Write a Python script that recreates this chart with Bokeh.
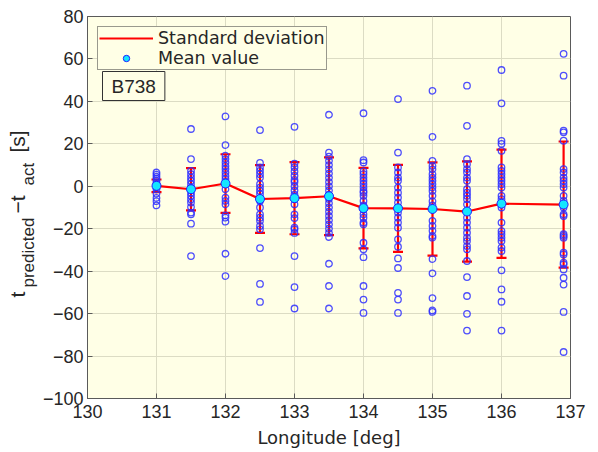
import math
from bokeh.plotting import figure
from bokeh.layouts import row
from bokeh.models import (ColumnDataSource, Whisker, TeeHead, Label, Legend,
                          LegendItem, Range1d, FixedTicker)
from bokeh.embed import file_html
from bokeh.resources import INLINE

# ---------------- data ----------------
lon = [131, 131.5, 132, 132.5, 133, 133.5, 134, 134.5, 135, 135.5, 136, 136.9]
mean_val = [0.2, -1.4, 1.3, -6.0, -5.6, -4.7, -10.3, -10.4, -10.7, -11.9, -8.2, -8.6]
std_val = [3.0, 10.0, 13.8, 16.0, 17.0, 18.3, 19.0, 20.5, 22.0, 23.6, 25.5, 29.7]

pts_131 = [6.5, 5.5, 4.5, 3.5, 2.5, 1.5, 0.5, -0.5, -1.5, -3.5, -5.5, -7, -9]
pts_131_5 = [27, 12.8, 7.3, 5.7, 4.1, 2.6, 1, -0.6, -3, -4.5, -6.1, -7.7, -9.8,
             -12.4, -13.2, -17.6, -32.9]
pts_132 = [32.9, 19.4, 14.4, 12.8, 11.2, 9.6, 8.1, 6.5, 4.9, 3.4, 1.8, -1.4, -5.3,
           -6.9, -8.5, -13.7, -14.8, -16.7, -31.8, -42.3]
pts_132_5 = [26.5, 11, 8.9, 7.3, 5.7, 4.1, 1, -0.6, -2.2, -3.7, -6.9, -10, -13.2,
             -14.8, -16.3, -18.7, -20.3, -29.1, -46, -54.5]
pts_133 = [28, 10.7, 9, 7, 5, 3, 2, 0, -2, -4, -6, -8.5, -13.2, -15, -19.5, -20.3,
           -22, -32.9, -47.5, -57.6]
pts_133_5 = [33.7, 15.9, 14, 12, 10, 8, 6, 4, 2, 0, -2, -4, -6, -8, -10, -12, -14,
             -16, -18, -20, -22, -23.9, -36.5, -47, -57.6]
pts_134 = [34.4, 12.3, 11.2, 7, 5.7, 4.1, 2.6, 1, -0.6, -2.2, -3, -4.5, -6.9, -9,
           -11, -13.2, -14.8, -17.1, -17.9, -26.6, -29.7, -33.4, -47, -53.4, -59.7]
pts_134_5 = [41.1, 15.9, 8.9, 6.5, 4.1, 2.6, -0.6, -3, -5.3, -7.7, -10, -12.4,
             -14.8, -17.1, -19.5, -25, -28.5, -34, -38.5, -50.2, -53.4, -59.7]
pts_135 = [45, 23.3, 12, 9.6, 8, 5.7, 4.1, 2.6, 1, -0.6, -2.2, -4.5, -7, -9, -16.3,
           -18.7, -21, -23.4, -24.2, -34.3, -41, -52.7, -58.5, -59.2]
pts_135_5 = [47.4, 28.5, 12.8, 10.4, 8.1, 6.5, 4.1, 2.6, -1.4, -3, -4.5, -6.1, -8.5,
             -11.6, -14.8, -17.1, -19.5, -21.9, -24.2, -25.8, -28.2, -29.7, -35.2,
             -42.8, -51.7, -60.1, -68]
pts_136 = [54.8, 39.1, 21.4, 20, 16.7, 8.9, 7.3, 5.7, 4.1, 2.6, 1, -0.6, -4.5, -6.1,
           -8.5, -10, -17.1, -21.1, -22.6, -24.2, -25.8, -28.9, -30.5, -39.6, -48.6,
           -54.4, -68]
pts_136_9 = [62.4, 52.1, 26.2, 25.4, 21.5, 8.1, 6.5, 4.1, 2.6, 1, -0.6, -4.5, -6.9,
             -10, -13.2, -14, -22.6, -23.4, -24.2, -31.3, -32.1, -36, -36.8, -39.2,
             -43.1, -46.3, -59.2, -78.1]

columns = [pts_131, pts_131_5, pts_132, pts_132_5, pts_133, pts_133_5, pts_134,
           pts_134_5, pts_135, pts_135_5, pts_136, pts_136_9]

x_ticks = [130, 131, 132, 133, 134, 135, 136, 137]
y_ticks = [-100, -80, -60, -40, -20, 0, 20, 40, 60, 80]

# ---------------- build sources ----------------
px, py = [], []
for xv, col in zip(lon, columns):
    for yv in col:
        px.append(xv)
        py.append(yv)
pts_src = ColumnDataSource(dict(x=px, y=py))

stat_src = ColumnDataSource(dict(
    lon=lon, mean=mean_val,
    upper=[m + s for m, s in zip(mean_val, std_val)],
    lower=[m - s for m, s in zip(mean_val, std_val)],
))

BG = "#ffffe6"
TICK_FONT = "Liberation Sans"
LBL_FONT = "DejaVu Sans"
LW = 38          # width of the y-label strip
H = 452
FRAME_BOTTOM = 398   # page y of the plot frame's bottom edge

p = figure(width=598 - LW, height=H, x_range=Range1d(130, 137),
           y_range=Range1d(-100, 80),
           output_backend="svg", toolbar_location=None, title=None,
           min_border_left=87 - LW, min_border_right=28, min_border_top=16,
           min_border_bottom=H - FRAME_BOTTOM)
p.background_fill_color = BG
p.border_fill_color = "white"
p.outline_line_color = "#5a5a5a"
p.outline_line_width = 1

p.xaxis.ticker = FixedTicker(ticks=x_ticks)
p.yaxis.ticker = FixedTicker(ticks=y_ticks)
for ax in (p.xaxis, p.yaxis):
    ax.major_tick_in = 5
    ax.major_tick_out = 0
    ax.minor_tick_line_color = None
    ax.axis_line_color = "#5a5a5a"
    ax.major_tick_line_color = "#5a5a5a"
    ax.major_label_text_font = TICK_FONT
    ax.major_label_text_font_size = "18px"
    ax.major_label_text_color = "#262626"
p.yaxis.major_label_standoff = 4
p.xaxis.major_label_standoff = 6
p.xaxis.axis_label = "Longitude [deg]"
p.xaxis.axis_label_text_font = LBL_FONT
p.xaxis.axis_label_text_font_size = "18px"
p.xaxis.axis_label_text_font_style = "normal"
p.xaxis.axis_label_text_color = "#262626"
p.xaxis.axis_label_standoff = 6
p.yaxis.major_label_overrides = {t: str(t).replace("-", "\u2212") for t in y_ticks}

p.grid.grid_line_color = "#dcdcc4"
p.grid.grid_line_width = 1

# samples
p.scatter("x", "y", source=pts_src, marker="circle", size=6.5, fill_color=None,
          line_color="#2f2fff", line_width=1.3, line_alpha=0.85)

# standard deviation bars
wh = Whisker(base="lon", upper="upper", lower="lower", source=stat_src,
             line_color="red", line_width=2.2,
             upper_head=TeeHead(size=10, line_color="red", line_width=2.2),
             lower_head=TeeHead(size=10, line_color="red", line_width=2.2))
p.add_layout(wh)

line_r = p.line("lon", "mean", source=stat_src, line_color="red", line_width=2.2)
mean_r = p.scatter("lon", "mean", source=stat_src, marker="circle", size=9,
                   fill_color="#14e6ff", line_color="#2020ff", line_width=1)

legend = Legend(items=[LegendItem(label="Standard deviation", renderers=[line_r]),
                       LegendItem(label="Mean value", renderers=[mean_r])],
                location="top_left", margin=10, padding=1, spacing=0,
                glyph_width=54, glyph_height=16, label_height=16, label_standoff=5,
                label_text_font=LBL_FONT, label_text_font_size="17.5px",
                label_text_color="#262626",
                border_line_color="#333333", border_line_width=1,
                background_fill_color=BG, background_fill_alpha=1)
p.add_layout(legend)

p.add_layout(Label(x=15, y=327, x_units="screen", y_units="screen", text="B738",
                   text_font=TICK_FONT, text_font_size="19px", text_color="#262626",
                   text_baseline="top", text_align="left",
                   border_line_color="#333333", border_line_width=1,
                   background_fill_color=BG, background_fill_alpha=1,
                   padding=(9, 4)))

# ---------------- y-axis label strip: t_predicted - t_act [s] ----------------
lf = figure(width=LW, height=H, x_range=Range1d(0, 1), y_range=Range1d(0, 1),
            output_backend="svg", toolbar_location=None, title=None,
            min_border=0, min_border_left=0, min_border_right=0,
            min_border_top=0, min_border_bottom=0,
            x_axis_type=None, y_axis_type=None)
lf.outline_line_color = None
lf.background_fill_color = "white"
lf.border_fill_color = "white"

# (text, baseline x, page y where the text starts, font size)
ylab_parts = [
    ("t", 17, 297, "21px"),
    ("predicted", 28, 287, "17px"),
    ("\u2212t", 17, 213, "21px"),
    ("act", 28, 185, "17px"),
    ("[s]", 17, 152, "21px"),
]
for txt, sx, page_y, fs in ylab_parts:
    lf.add_layout(Label(x=sx, y=FRAME_BOTTOM - page_y, x_units="screen",
                        y_units="screen", text=txt,
                        angle=math.pi / 2, text_font=TICK_FONT, text_font_size=fs,
                        text_color="#262626", text_baseline="alphabetic",
                        text_align="left"))

layout = row(lf, p)
open("out.html", "w").write(file_html(layout, INLINE))
